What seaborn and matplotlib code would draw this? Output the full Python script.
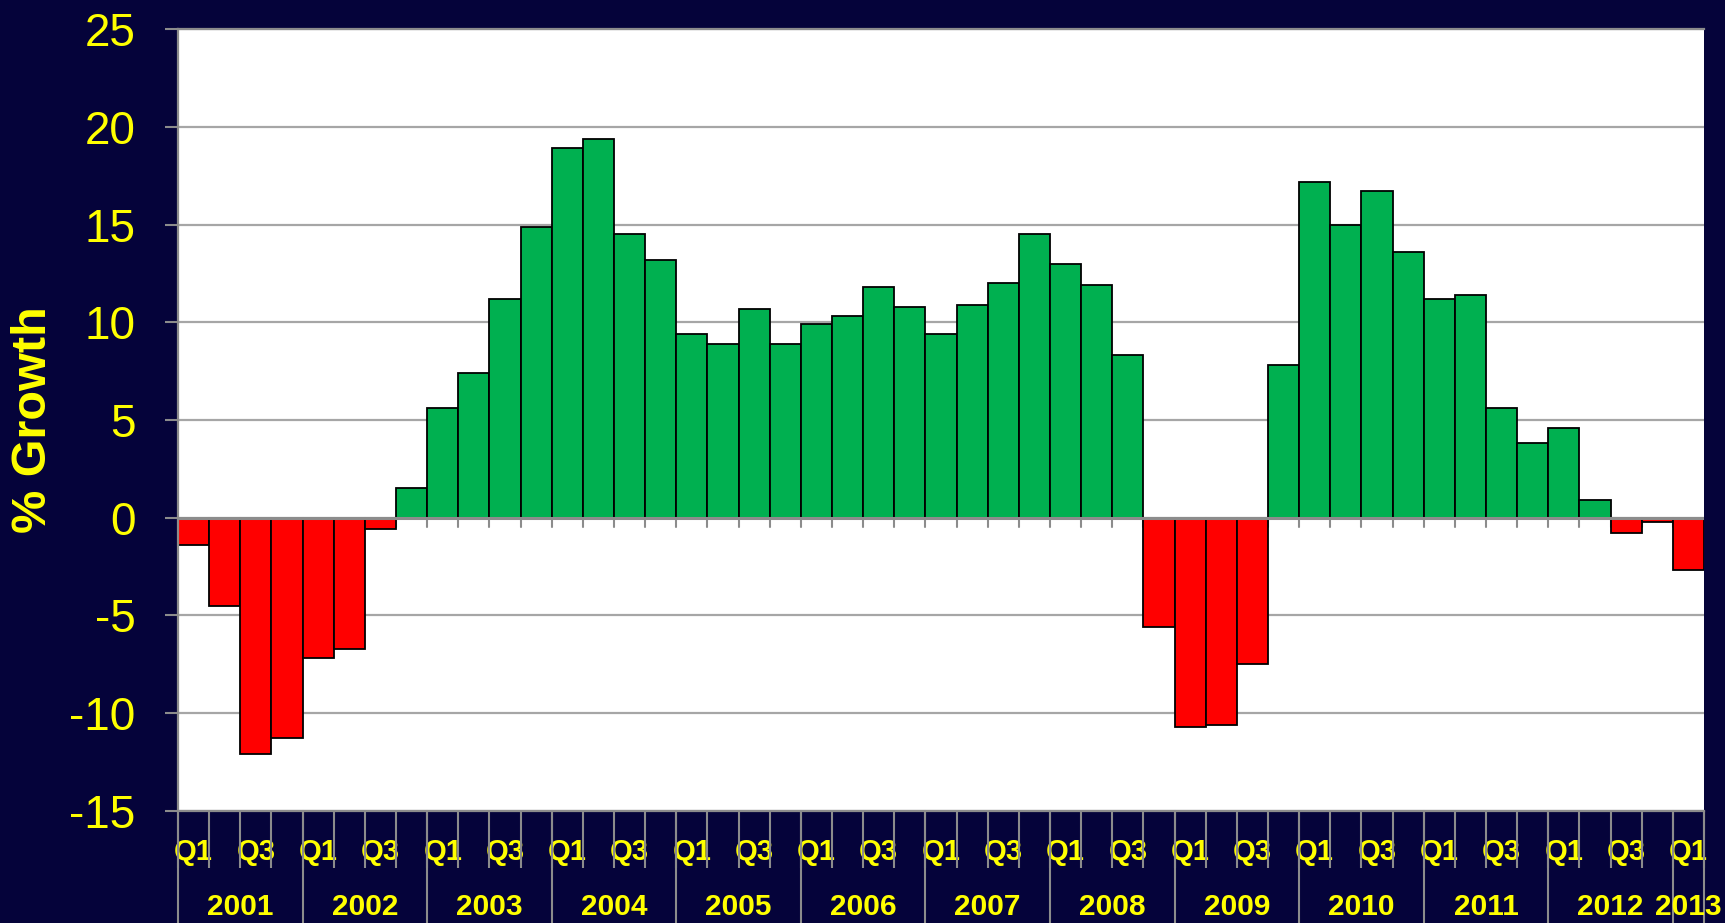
import numpy as np
import pandas as pd
import matplotlib
matplotlib.use("Agg")
import matplotlib.pyplot as plt
import matplotlib.transforms as mtransforms
from matplotlib.ticker import FixedLocator
import seaborn as sns

# ---------------- data ----------------
years = [str(y) for y in range(2001, 2014)]
quarters = ["Q1", "Q2", "Q3", "Q4"]
growth = [
    -1.4, -4.5, -12.1, -11.3,     # 2001
    -7.2, -6.7, -0.6, 1.5,        # 2002
    5.6, 7.4, 11.2, 14.9,         # 2003
    18.9, 19.4, 14.5, 13.2,       # 2004
    9.4, 8.9, 10.7, 8.9,          # 2005
    9.9, 10.3, 11.8, 10.8,        # 2006
    9.4, 10.9, 12.0, 14.5,        # 2007
    13.0, 11.9, 8.3, -5.6,        # 2008
    -10.7, -10.6, -7.5, 7.8,      # 2009
    17.2, 15.0, 16.7, 13.6,       # 2010
    11.2, 11.4, 5.6, 3.8,         # 2011
    4.6, 0.9, -0.8, -0.2,         # 2012
    -2.7,                         # 2013
]
y_ticks = [-15, -10, -5, 0, 5, 10, 15, 20, 25]
y_label = "% Growth"

periods = [f"{y} {q}" for y in years for q in quarters][:len(growth)]
q_labels = [p.split()[1] for p in periods]
year_of = [p.split()[0] for p in periods]

df = pd.DataFrame({
    "period": periods,
    "growth": growth,
    "sign": ["pos" if v >= 0 else "neg" for v in growth],
})

# ---------------- style ----------------
BG = "#05033A"
YELLOW = "#FFFF00"
GRID = "#A6A6A6"
AXIS = "#8C8C8C"

sns.set_style("white")
plt.rcParams["font.family"] = ["Liberation Sans", "DejaVu Sans"]

fig = plt.figure(figsize=(17.25, 9.23), dpi=100, facecolor=BG)
ax = fig.add_axes([0.1032, 0.1217, 0.9878 - 0.1032, 0.9683 - 0.1217])
ax.set_facecolor("white")

sns.barplot(
    data=df, x="period", y="growth", hue="sign", order=periods,
    hue_order=["pos", "neg"], palette={"pos": "#00B050", "neg": "#FF0000"},
    saturation=1, dodge=False, width=1.0, edgecolor="black", linewidth=1.3,
    legend=False, ax=ax, zorder=2,
)

n = len(periods)
ax.set_xlim(-0.5, n - 0.5)
ax.set_ylim(y_ticks[0], y_ticks[-1])

# y axis
ax.set_yticks(y_ticks)
ax.set_yticklabels([str(t) for t in y_ticks], fontsize=33, color=YELLOW)
ax.tick_params(axis="y", which="major", length=9.5, width=1.5, color=AXIS,
               direction="out", pad=21, left=True)
ax.yaxis.grid(True, color=GRID, linewidth=1.6, zorder=0)
ax.set_axisbelow(True)
ax.set_ylabel(y_label, fontsize=35, fontweight="bold", color=YELLOW, va="center")
ax.yaxis.set_label_coords(-0.095, 0.5)

# x axis: Q labels at bar centres, boundary ticks as minor ticks
ax.set_xlabel("")
ax.xaxis.set_major_locator(FixedLocator(list(range(n))))
ax.set_xticklabels([q if q in ("Q1", "Q3") else "" for q in q_labels],
                   fontsize=21, fontweight="bold", color=YELLOW)
ax.tick_params(axis="x", which="major", length=0, pad=20, bottom=True)
bounds = np.arange(n + 1) - 0.5
ax.xaxis.set_minor_locator(FixedLocator(list(bounds)))
ax.tick_params(axis="x", which="minor", length=41, width=1.5, color=AXIS,
               direction="out", bottom=True)

for s in ["left", "top", "bottom"]:
    ax.spines[s].set_color(AXIS)
    ax.spines[s].set_linewidth(1.6)
ax.spines["right"].set_visible(False)

# zero line with small category ticks below it
ax.axhline(0, color=AXIS, linewidth=2.2, zorder=3)
for b in bounds:
    ax.plot([b, b], [0, -0.5], color=AXIS, linewidth=1.5, zorder=1)

# year separators and year labels
trans = mtransforms.blended_transform_factory(ax.transData, ax.transAxes)
year_starts = [i for i in range(n) if i == 0 or year_of[i] != year_of[i - 1]]
for i in year_starts + [n]:
    ax.plot([i - 0.5, i - 0.5], [0, -0.16], transform=trans, color=AXIS,
            linewidth=1.5, clip_on=False)
for k, i in enumerate(year_starts):
    j = year_starts[k + 1] if k + 1 < len(year_starts) else n
    ax.text((i + j - 1) / 2, -0.123, year_of[i], transform=trans,
            ha="center", va="center", fontsize=21.5, fontweight="bold",
            color=YELLOW)

fig.savefig("out.png", dpi=100, facecolor=BG)
